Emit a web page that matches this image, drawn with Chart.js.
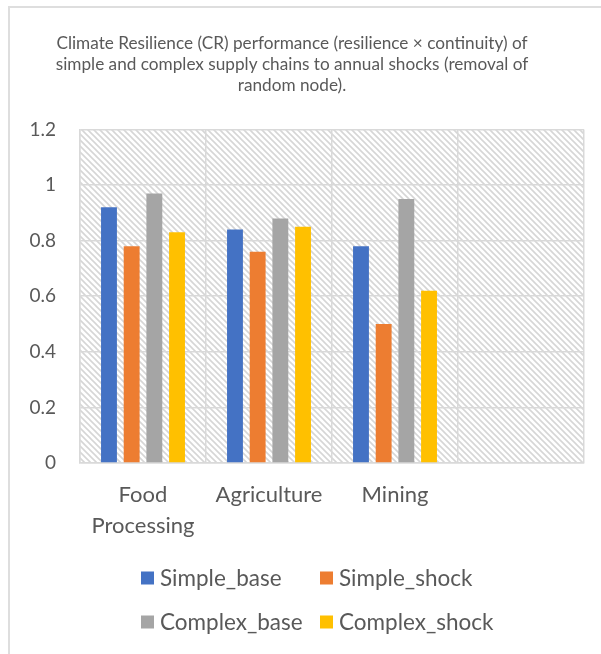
<!DOCTYPE html>
<html>
<head>
<meta charset="utf-8">
<script src="https://cdn.jsdelivr.net/npm/chart.js@4.4.1/dist/chart.umd.min.js"></script>
<style>
  html, body { margin: 0; padding: 0; background: #ffffff; }
  #wrap { position: relative; width: 601px; height: 654px; overflow: hidden; }
  #frame { position: absolute; left: 8px; top: 6px; width: 700px; height: 700px;
           border-left: 2px solid #dedede; border-top: 2px solid #dedede; box-sizing: border-box; }
  #c { position: absolute; left: 0; top: 0; }
</style>
</head>
<body>
<div id="wrap">
  <div id="frame"></div>
  <canvas id="c" width="601" height="654"></canvas>
</div>
<script>
// Sectors (the fourth slot is left empty on purpose)
const categories = [['Food', 'Processing'], 'Agriculture', 'Mining', ''];

// CR performance per sector
const simpleBase   = [0.92, 0.84, 0.78, null];
const simpleShock  = [0.78, 0.76, 0.50, null];
const complexBase  = [0.97, 0.88, 0.95, null];
const complexShock = [0.83, 0.85, 0.62, null];

const seriesNames  = ['Simple_base', 'Simple_shock', 'Complex_base', 'Complex_shock'];
const seriesColors = ['#4472C4', '#ED7D31', '#A5A5A5', '#FFC000'];

const yTickLabels = ['0', '0.2', '0.4', '0.6', '0.8', '1', '1.2'];

const titleLines = [
  'Climate Resilience (CR) performance (resilience \u00d7 continuity) of',
  'simple and complex supply chains to annual shocks (removal of',
  'random node).'
];

const FONT = 'Lato, "Open Sans", sans-serif';
const TEXT = '#595959';
const GRID = '#d9d9d9';

// Light diagonal hatch used as the plot-area fill
function makeHatch() {
  const s = 6;
  const p = document.createElement('canvas');
  p.width = s; p.height = s;
  const g = p.getContext('2d');
  g.fillStyle = '#ffffff';
  g.fillRect(0, 0, s, s);
  g.strokeStyle = '#d6d6d6';
  g.lineWidth = 1.6;
  g.beginPath();
  g.moveTo(-1, -1); g.lineTo(s + 1, s + 1);
  g.moveTo(-1, s - 1); g.lineTo(1, s + 1);
  g.moveTo(s - 1, -1); g.lineTo(s + 1, 1);
  g.stroke();
  return p;
}

const hatchFill = {
  id: 'hatchFill',
  beforeDraw(chart) {
    const { ctx, chartArea: a } = chart;
    ctx.save();
    ctx.fillStyle = ctx.createPattern(makeHatch(), 'repeat');
    ctx.fillRect(a.left, a.top, a.right - a.left, a.bottom - a.top);
    ctx.restore();
  }
};

// Two-column legend below the plot
const gridLegend = {
  id: 'gridLegend',
  afterDraw(chart) {
    const ctx = chart.ctx;
    const cols = [141, 320];
    const rows = [578, 622];
    ctx.save();
    ctx.font = '22.5px ' + FONT;
    ctx.textBaseline = 'middle';
    ctx.textAlign = 'left';
    chart.data.datasets.forEach((ds, i) => {
      const x = cols[i % 2];
      const y = rows[Math.floor(i / 2)];
      ctx.fillStyle = ds.backgroundColor;
      ctx.fillRect(x, y - 6.5, 13, 13);
      ctx.fillStyle = TEXT;
      ctx.fillText(ds.label, x + 19, y + 1);
    });
    ctx.restore();
  }
};

const values = [simpleBase, simpleShock, complexBase, complexShock];

new Chart(document.getElementById('c'), {
  type: 'bar',
  data: {
    labels: categories,
    datasets: values.map((v, i) => ({
      label: seriesNames[i],
      data: v,
      backgroundColor: seriesColors[i],
      borderWidth: 0,
      categoryPercentage: 0.72,
      barPercentage: 0.70
    }))
  },
  options: {
    responsive: false,
    animation: false,
    layout: { padding: { left: 0, right: 17, top: 0, bottom: 101 } },
    plugins: {
      legend: { display: false },
      tooltip: { enabled: false },
      title: {
        display: true,
        text: titleLines,
        color: TEXT,
        font: { family: FONT, size: 17.2, weight: 'normal', lineHeight: 1.23 },
        padding: { top: 33, bottom: 33 }
      }
    },
    scales: {
      x: {
        grid: { color: GRID, lineWidth: 1.5, drawTicks: false, offset: true },
        border: { display: true, color: GRID, width: 1.5 },
        ticks: {
          color: TEXT,
          padding: 16,
          maxRotation: 0,
          autoSkip: false,
          font: { family: FONT, size: 22, lineHeight: 1.41 }
        },
        afterFit(scale) { scale.height = 90; }
      },
      y: {
        min: 0,
        max: 1.2,
        grid: { color: GRID, lineWidth: 1.5, drawTicks: false },
        border: { display: true, color: GRID, width: 1.5 },
        ticks: {
          stepSize: 0.2,
          color: TEXT,
          padding: 24,
          font: { family: FONT, size: 19 },
          callback: (v, i) => yTickLabels[i]
        },
        afterFit(scale) { scale.width = 80; }
      }
    }
  },
  plugins: [hatchFill, gridLegend]
});
</script>
</body>
</html>
